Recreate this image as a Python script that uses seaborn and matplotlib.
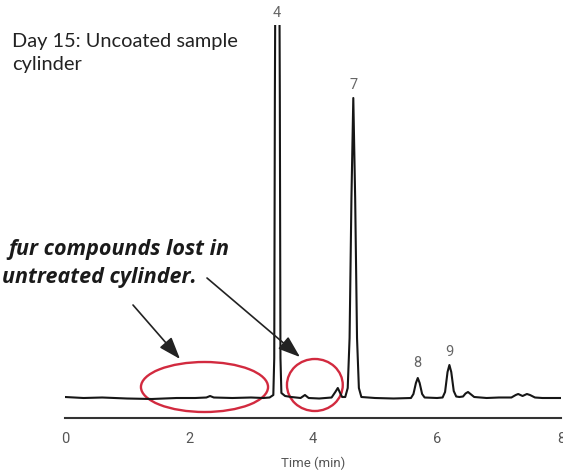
import matplotlib
matplotlib.use("Agg")
import matplotlib.pyplot as plt
from matplotlib.patches import Ellipse
import seaborn as sns
import pandas as pd

# ---- data ----
time_min = [0.00, 0.30, 0.60, 1.00, 1.40, 1.80, 2.10, 2.28, 2.34, 2.40, 2.70, 3.00,
            3.20, 3.30, 3.36, 3.375, 3.385, 3.39, 3.425, 3.46, 3.465, 3.475, 3.49,
            3.55, 3.65, 3.80, 3.87, 3.93, 4.10, 4.30, 4.36, 4.40, 4.43, 4.47, 4.52,
            4.56, 4.59, 4.62, 4.65, 4.68, 4.71, 4.74, 4.78, 5.00, 5.30, 5.58, 5.62,
            5.66, 5.69, 5.72, 5.76, 5.80, 6.00, 6.09, 6.13, 6.17, 6.20, 6.23, 6.27,
            6.31, 6.36, 6.42, 6.46, 6.50, 6.54, 6.60, 6.80, 7.00, 7.20, 7.27, 7.31,
            7.38, 7.45, 7.50, 7.58, 7.70, 8.00]
signal = [1.0, 0.0, 0.5, -0.5, -1.0, 0.0, 0.0, 0.5, 2.0, 0.5, 0.0, 0.5,
          0.0, 0.5, 3.0, 40.0, 300.0, 380.0, 460.0, 380.0, 300.0, 40.0, 5.0,
          2.0, 1.0, 0.0, 3.0, 0.0, -0.5, 0.5, 6.0, 10.0, 6.0, 1.0, 1.0,
          10.0, 60.0, 200.0, 300.0, 200.0, 60.0, 10.0, 1.0, 0.0, -0.5, 0.0, 4.0,
          15.0, 20.0, 15.0, 4.0, 0.5, 0.0, 0.5, 6.0, 26.0, 33.0, 26.0, 7.0,
          1.5, 1.0, 1.5, 4.5, 6.0, 4.0, 1.0, 0.0, 0.5, 0.5, 3.0, 4.0,
          2.0, 4.0, 3.0, 0.5, 0.0, 0.0]

peak_labels = ["4", "7", "8", "9"]
peak_label_t = [3.42, 4.65, 5.69, 6.20]
peak_label_y = [385, 313, 35, 46]

tick_values = [0, 1, 2, 3, 4, 5, 6, 7, 8]
tick_labels = ["0", "", "2", "", "4", "", "6", "", "8"]

title_lines = ["Day 15: Uncoated sample", "cylinder"]
note_lines = ["fur compounds lost in", "untreated cylinder."]
x_label = "Time (min)"

# ---- figure ----
sns.set_style("white")
plt.rcParams["font.family"] = ["Roboto", "DejaVu Sans"]

W, H = 563, 474
fig = plt.figure(figsize=(W / 100, H / 100), dpi=100)
ax = fig.add_axes([65 / W, (H - 418) / H, 496 / W, 393 / H])

df = pd.DataFrame({"Time (min)": time_min, "Signal": signal})
sns.lineplot(data=df, x="Time (min)", y="Signal", estimator=None, sort=False,
             color="#161616", lw=1.5, ax=ax)

ax.set_xlim(0, 8)
ax.set_ylim(-20, 373)
for s in ["left", "top", "right"]:
    ax.spines[s].set_visible(False)
ax.spines["bottom"].set_color("#333333")
ax.spines["bottom"].set_linewidth(1.5)
ax.set_yticks([])
ax.set_ylabel("")
ax.set_xticks(tick_values)
ax.set_xticklabels(tick_labels)
ax.tick_params(axis="x", direction="out", length=5, width=1.3, color="#333333",
               pad=5, labelsize=10.5, labelcolor="#555555")
ax.set_xlabel(x_label, fontsize=9.5, color="#555555", va="center")
ax.xaxis.set_label_coords(0.5, -(463 - 418) / 393)

for lab, t, y in zip(peak_labels, peak_label_t, peak_label_y):
    ax.text(t, y, lab, ha="center", va="center", fontsize=10.5, color="#666666",
            clip_on=False)

red = "#d22a3f"
ax.add_patch(Ellipse((2.25, 11), 2.05, 50, fill=False, ec=red, lw=1.7, clip_on=False))
ax.add_patch(Ellipse((4.03, 13), 0.90, 52, fill=False, ec=red, lw=1.7, clip_on=False))

def fp(x, y):
    return (x / W, 1 - y / H)

fig.text(*fp(12, 47), title_lines[0], fontsize=14.4, family=["Lato", "DejaVu Sans"],
         color="#222222", ha="left", va="baseline")
fig.text(*fp(12, 70), title_lines[1], fontsize=14.4, family=["Lato", "DejaVu Sans"],
         color="#222222", ha="left", va="baseline")

fig.text(*fp(229, 255), note_lines[0], fontsize=15.5, family=["Open Sans", "Lato", "DejaVu Sans"],
         weight="bold", style="italic", color="#1a1a1a", ha="right", va="baseline")
fig.text(*fp(197, 283), note_lines[1], fontsize=15.5, family=["Open Sans", "Lato", "DejaVu Sans"],
         weight="bold", style="italic", color="#1a1a1a", ha="right", va="baseline")

arrow_kw = dict(arrowstyle="-|>,head_length=0.9,head_width=0.32", color="#222222",
                lw=1.2, shrinkA=0, shrinkB=0, mutation_scale=15)
for (x0, y0), (x1, y1) in [((133, 305), (180, 359)), ((207, 278), (300, 357))]:
    ax.annotate("", xy=(x1, H - y1), xycoords="figure pixels",
                xytext=(x0, H - y0), textcoords="figure pixels",
                arrowprops=arrow_kw, annotation_clip=False)

fig.savefig("out.png", dpi=100)
